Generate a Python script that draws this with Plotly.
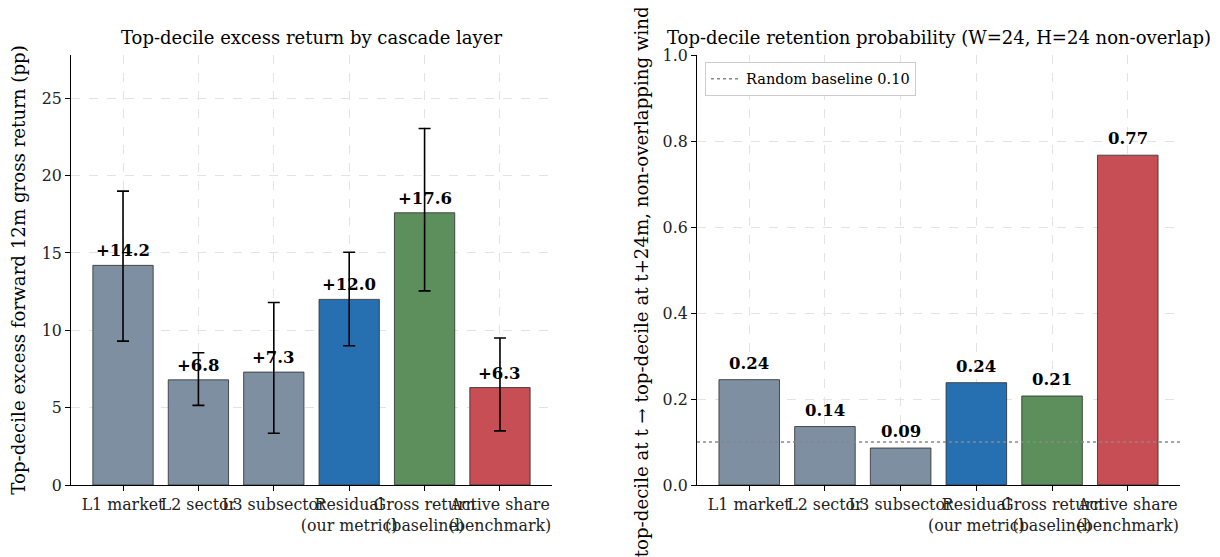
import plotly.graph_objects as go

categories = ["L1 market", "L2 sector", "L3 subsector", "Residual<br>(our metric)",
              "Gross return<br>(baseline)", "Active share<br>(benchmark)"]
excess_return = [14.2, 6.8, 7.3, 12.0, 17.6, 6.3]
excess_err_plus = [4.8, 1.75, 4.5, 3.05, 5.45, 3.2]
excess_err_minus = [4.9, 1.65, 3.95, 3.0, 5.05, 2.8]
retention = [0.245, 0.136, 0.086, 0.238, 0.207, 0.767]
random_baseline = 0.10
bar_colors = ["rgba(119,137,157,0.95)", "rgba(119,137,157,0.95)", "rgba(119,137,157,0.95)",
              "rgba(31,106,173,0.97)", "rgba(88,139,88,0.97)", "rgba(196,72,78,0.97)"]

FONT = "DejaVu Serif"
W, H = 1212, 549
xpos = list(range(len(categories)))
xr = [-0.69, len(categories) - 1 + 0.69]
dom1 = [63 / W, 544 / W]
dom2 = [689 / W, 1172 / W]

fig = go.Figure()

fig.add_trace(go.Bar(
    x=xpos, y=excess_return, width=0.8,
    marker=dict(color=bar_colors, line=dict(color="#2b2b2b", width=0.8)),
    error_y=dict(type="data", symmetric=False, array=excess_err_plus, arrayminus=excess_err_minus,
                 visible=True, color="black", thickness=1.6, width=6),
    xaxis="x", yaxis="y", showlegend=False, hoverinfo="skip"))

fig.add_trace(go.Bar(
    x=xpos, y=retention, width=0.8,
    marker=dict(color=bar_colors, line=dict(color="#2b2b2b", width=0.8)),
    xaxis="x2", yaxis="y2", showlegend=False, hoverinfo="skip"))

fig.add_trace(go.Scatter(
    x=xr, y=[random_baseline, random_baseline], mode="lines",
    line=dict(color="#888888", width=1.4, dash="dot"),
    name="Random baseline 0.10", xaxis="x2", yaxis="y2", showlegend=True, hoverinfo="skip"))

annotations = []
for i, v in enumerate(excess_return):
    annotations.append(dict(x=i, y=v, xref="x", yref="y", text=f"<b>+{v:.1f}</b>",
                            showarrow=False, yanchor="bottom", xanchor="center", yshift=3,
                            font=dict(family=FONT, size=16.5, color="black")))
for i, v in enumerate(retention):
    annotations.append(dict(x=i, y=v, xref="x2", yref="y2", text=f"<b>{v:.2f}</b>",
                            showarrow=False, yanchor="bottom", xanchor="center", yshift=5,
                            font=dict(family=FONT, size=16.5, color="black")))

annotations.append(dict(x=sum(dom1) / 2, y=1, xref="paper", yref="paper",
                        text="Top-decile excess return by cascade layer", showarrow=False,
                        xanchor="center", yanchor="bottom", yshift=5,
                        font=dict(family=FONT, size=18, color="black")))
annotations.append(dict(x=sum(dom2) / 2, y=1, xref="paper", yref="paper",
                        text="Top-decile retention probability (W=24, H=24 non-overlap)", showarrow=False,
                        xanchor="center", yanchor="bottom", yshift=5,
                        font=dict(family=FONT, size=18, color="black")))

axis_common = dict(showline=True, linecolor="black", linewidth=1.2, ticks="outside",
                   ticklen=5, tickwidth=1.1, tickcolor="black", showgrid=True,
                   gridcolor="#e3e3e3", griddash="dash", gridwidth=1, zeroline=False,
                   mirror=False, automargin=False,
                   tickfont=dict(family=FONT, size=15.8, color="#222222"))

fig.update_layout(
    width=W, height=H,
    margin=dict(l=0, r=0, t=47, b=72),
    plot_bgcolor="white", paper_bgcolor="white",
    font=dict(family=FONT, color="black"),
    bargap=0.2,
    xaxis=dict(domain=dom1, range=xr, tickvals=xpos, ticktext=categories,
               tickangle=0, anchor="y", **axis_common),
    yaxis=dict(domain=[0, 1], range=[0, 27.8], tickvals=[0, 5, 10, 15, 20, 25], anchor="x",
               title=dict(text="Top-decile excess forward 12m gross return (pp)",
                          font=dict(family=FONT, size=18.2, color="black"), standoff=11),
               **axis_common),
    xaxis2=dict(domain=dom2, range=xr, tickvals=xpos, ticktext=categories,
                tickangle=0, anchor="y2", **axis_common),
    yaxis2=dict(domain=[0, 1], range=[0, 1.0], tickvals=[0, 0.2, 0.4, 0.6, 0.8, 1.0],
                tickformat=".1f", anchor="x2",
                title=dict(text="P(top-decile at t → top-decile at t+24m, non-overlapping windows)",
                           font=dict(family=FONT, size=18.2, color="black"), standoff=9),
                **axis_common),
    legend=dict(x=(697 - 8) / W + 0.0066, y=0.984, xanchor="left", yanchor="top",
                bgcolor="white", bordercolor="#cccccc", borderwidth=1,
                font=dict(family=FONT, size=14.5, color="black")),
    annotations=annotations,
)

fig.write_html("out.html")
